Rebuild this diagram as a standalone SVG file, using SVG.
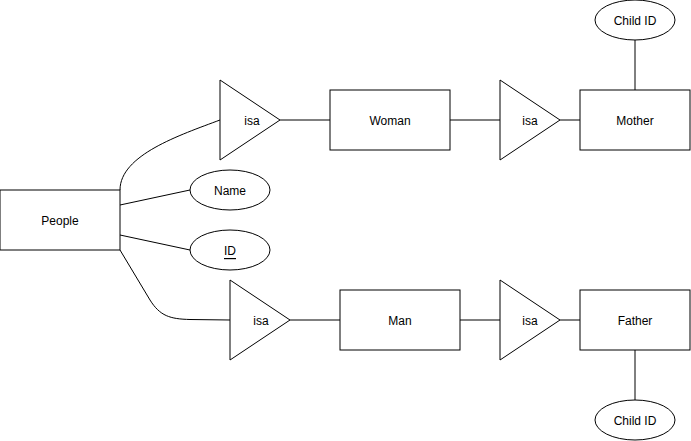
<svg xmlns="http://www.w3.org/2000/svg" width="691" height="441" viewBox="0 0 691 441">
<style>
.s{fill:#fff;stroke:#000;stroke-width:1}
.e{fill:none;stroke:#000;stroke-width:1}
text{font-family:"Liberation Sans",Arial,sans-serif;font-size:12px;fill:#000;text-anchor:middle;dominant-baseline:central}
</style>
<rect width="691" height="441" fill="#fff"/>
<g id="connectors">
<path class="e" d="M120 190 C120 155 180 135 220 120"/>
<path class="e" d="M120 205 L190 190"/>
<path class="e" d="M120 235 L190 250"/>
<path class="e" d="M120 250 L150 300 C160 316 170 319 190 319.5 L230 320"/>
<path class="e" d="M280 120 L330 120"/>
<path class="e" d="M450 120 L500 120"/>
<path class="e" d="M560 120 L580 120"/>
<path class="e" d="M290 320 L340 320"/>
<path class="e" d="M460 320 L500 320"/>
<path class="e" d="M560 320 L580 320"/>
<path class="e" d="M635 40 L635 90"/>
<path class="e" d="M635 350 L635 400"/>
</g>
<g id="people"><rect class="s" x="0" y="190" width="120" height="60"/><text x="60" y="221">People</text></g>
<g id="name"><ellipse class="s" cx="230" cy="190" rx="40" ry="20"/><text x="230" y="191">Name</text></g>
<g id="id"><ellipse class="s" cx="230" cy="250" rx="40" ry="20"/><text x="230" y="251" text-decoration="underline">ID</text></g>
<g id="isa1"><polygon class="s" points="220,80 280,120 220,160"/><text x="252" y="121">isa</text></g>
<g id="isa2"><polygon class="s" points="230,280 290,320 230,360"/><text x="261" y="321">isa</text></g>
<g id="woman"><rect class="s" x="330" y="90" width="120" height="60"/><text x="390" y="121">Woman</text></g>
<g id="man"><rect class="s" x="340" y="290" width="120" height="60"/><text x="400" y="321">Man</text></g>
<g id="isa3"><polygon class="s" points="500,80 560,120 500,160"/><text x="530" y="121">isa</text></g>
<g id="isa4"><polygon class="s" points="500,280 560,320 500,360"/><text x="530" y="321">isa</text></g>
<g id="mother"><rect class="s" x="580" y="90" width="110" height="60"/><text x="635" y="121">Mother</text></g>
<g id="father"><rect class="s" x="580" y="290" width="110" height="60"/><text x="635" y="321">Father</text></g>
<g id="childid1"><ellipse class="s" cx="635" cy="20" rx="40" ry="20"/><text x="635" y="21">Child ID</text></g>
<g id="childid2"><ellipse class="s" cx="635" cy="420" rx="40" ry="20"/><text x="635" y="421">Child ID</text></g>
</svg>
